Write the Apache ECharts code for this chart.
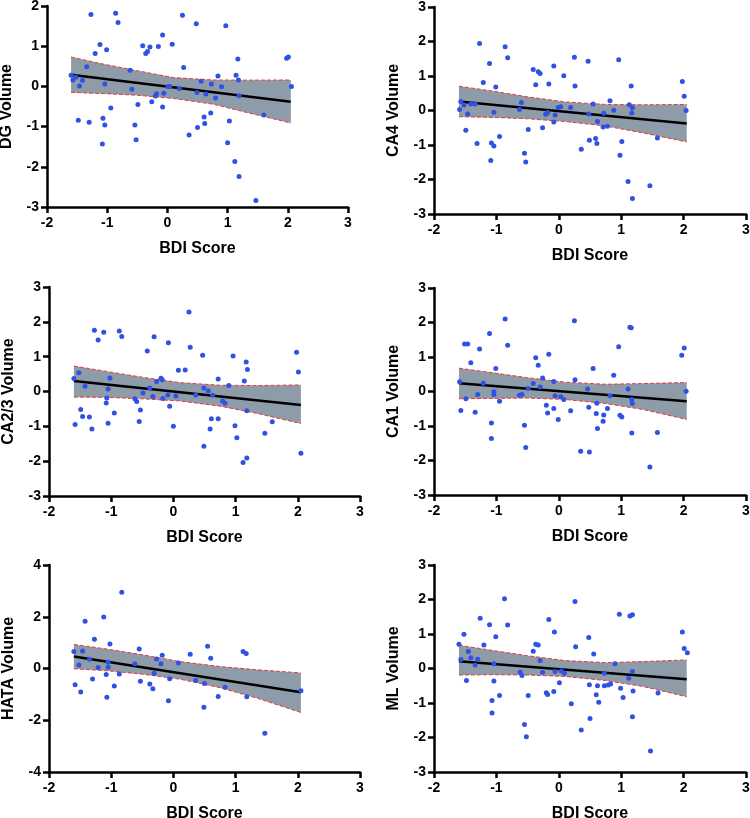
<!DOCTYPE html>
<html>
<head>
<meta charset="utf-8">
<script src="https://cdn.jsdelivr.net/npm/echarts@6/dist/echarts.min.js"></script>
<style>
  html, body { margin: 0; padding: 0; background: #fff; }
  #main { width: 750px; height: 818px; }
</style>
</head>
<body>
<div id="main"></div>
<script>
// scatter points [BDI score, volume]
var dgPoints = [[-1.27,1.79],[-0.86,1.82],[-0.82,1.59],[0.25,1.77],[0.48,1.56],[0.97,1.51],[-1.12,1.04],[-1.20,0.82],[-1.01,0.91],[-0.41,1.01],[-0.36,0.82],[-0.33,0.87],[-0.29,0.98],[-0.15,0.99],[-0.08,1.28],[0.08,1.05],[1.17,0.68],[1.98,0.70],[2.01,0.73],[-1.60,0.28],[-1.57,0.16],[-1.52,0.23],[-1.34,0.49],[-1.41,0.15],[-1.46,0.01],[-1.04,0.06],[-0.62,0.40],[-0.59,-0.07],[0.27,0.47],[0.01,0.00],[0.04,0.00],[0.20,-0.05],[-0.18,-0.18],[-0.20,-0.24],[-0.06,-0.17],[-0.26,-0.38],[-0.08,-0.51],[-0.49,-0.45],[-0.94,-0.54],[-1.48,-0.84],[-1.30,-0.89],[-1.07,-0.79],[-1.04,-0.96],[-0.54,-0.96],[-0.52,-1.33],[-1.08,-1.43],[0.36,-1.21],[0.50,-1.02],[0.61,-0.76],[0.62,-0.92],[0.72,-0.66],[0.49,-0.15],[0.56,0.13],[0.64,-0.19],[0.73,0.06],[0.80,-0.29],[0.84,0.26],[0.90,-0.01],[1.03,-0.86],[1.00,-1.40],[1.14,0.28],[1.18,0.16],[1.19,-0.23],[1.12,-1.87],[1.19,-2.24],[1.47,-2.84],[1.60,-0.71],[2.06,0.00]];

var ca4Points = [[-1.27,1.94],[-0.86,1.85],[-0.82,1.53],[0.25,1.54],[0.47,1.43],[0.96,1.47],[-1.11,1.36],[-1.21,0.81],[-1.01,0.68],[-0.41,1.19],[-0.37,0.75],[-0.33,1.12],[-0.30,1.07],[-0.16,0.77],[-0.08,1.29],[0.08,1.01],[1.16,0.71],[1.98,0.84],[2.01,0.41],[-1.59,0.03],[-1.57,0.26],[-1.52,0.16],[-1.41,0.19],[-1.34,0.19],[-1.46,-0.10],[-1.04,-0.05],[-0.60,0.23],[-0.63,0.03],[0.26,0.71],[-0.01,0.09],[0.03,0.11],[0.19,0.09],[-0.18,-0.06],[-0.21,-0.11],[-0.06,-0.13],[-0.26,-0.50],[-0.08,-0.33],[-0.49,-0.55],[-0.95,-0.75],[-1.49,-0.57],[-1.31,-0.96],[-1.08,-0.94],[-1.04,-1.03],[-0.55,-1.24],[-0.53,-1.49],[-1.09,-1.45],[0.36,-1.12],[0.49,-0.86],[0.59,-0.81],[0.61,-0.96],[0.71,-0.48],[0.48,-0.10],[0.55,0.19],[0.62,-0.32],[0.72,-0.08],[0.78,-0.46],[0.82,0.28],[0.88,0.01],[1.01,-0.90],[0.98,-1.30],[1.13,0.17],[1.18,0.08],[1.17,-0.07],[1.11,-2.06],[1.18,-2.55],[1.46,-2.18],[1.58,-0.80],[2.04,0.00]];

var ca23Points = [[-1.60,0.37],[-1.58,-0.95],[-1.52,0.54],[-1.49,-0.52],[-1.46,-0.72],[-1.42,0.15],[-1.35,-0.73],[-1.31,-1.08],[-1.27,1.76],[-1.21,1.48],[-1.12,1.70],[-1.08,-0.33],[-1.07,-0.19],[-1.05,0.07],[-1.05,-0.91],[-1.02,0.39],[-0.95,-0.62],[-0.87,1.74],[-0.83,1.58],[-0.62,-0.21],[-0.59,-0.29],[-0.55,-0.86],[-0.53,-0.53],[-0.49,-0.04],[-0.42,1.16],[-0.38,0.10],[-0.33,-0.14],[-0.31,1.57],[-0.27,0.29],[-0.20,0.38],[-0.18,0.34],[-0.17,-0.20],[-0.09,-0.10],[-0.08,1.40],[-0.06,-0.42],[0.00,-1.00],[0.04,-0.13],[0.08,0.61],[0.19,0.62],[0.25,2.28],[0.27,1.27],[0.36,-0.10],[0.47,1.04],[0.49,0.10],[0.49,-1.57],[0.56,0.02],[0.59,-1.08],[0.61,-0.78],[0.63,-0.11],[0.72,-0.78],[0.72,0.36],[0.79,-0.27],[0.83,-0.34],[0.89,0.17],[0.96,1.02],[0.99,-0.98],[1.02,-1.33],[1.12,-2.04],[1.14,0.30],[1.17,0.85],[1.18,-1.91],[1.18,-0.55],[1.19,0.63],[1.47,-1.20],[1.59,-0.87],[1.98,1.13],[2.01,0.56],[2.05,-1.77]];

var ca1Points = [[-1.59,0.28],[-1.57,-0.55],[-1.51,1.38],[-1.49,-0.21],[-1.46,1.38],[-1.41,0.83],[-1.34,-0.60],[-1.30,-0.09],[-1.27,1.23],[-1.21,0.24],[-1.11,1.68],[-1.08,-1.36],[-1.08,-0.91],[-1.04,-0.01],[-1.04,-0.09],[-1.01,0.67],[-0.95,-0.28],[-0.86,2.10],[-0.82,1.34],[-0.63,-0.11],[-0.59,-0.09],[-0.55,-0.98],[-0.53,-1.62],[-0.49,0.09],[-0.41,0.23],[-0.37,0.98],[-0.33,0.76],[-0.30,0.13],[-0.26,0.39],[-0.20,-0.40],[-0.18,-0.62],[-0.16,1.08],[-0.08,-0.49],[-0.08,0.29],[-0.06,-0.12],[-0.01,-0.81],[0.03,-0.15],[0.08,-0.23],[0.19,-0.56],[0.25,2.05],[0.26,0.34],[0.35,-1.73],[0.46,0.07],[0.48,-0.46],[0.49,-1.75],[0.55,0.67],[0.60,-0.64],[0.61,-0.34],[0.62,-1.07],[0.71,-0.86],[0.72,-0.68],[0.78,-0.49],[0.82,-0.12],[0.88,0.47],[0.96,1.30],[0.98,-0.69],[1.01,-0.74],[1.11,0.07],[1.14,1.86],[1.16,1.85],[1.17,-0.23],[1.18,-0.35],[1.17,-1.20],[1.46,-2.19],[1.58,-1.19],[1.97,1.05],[2.01,1.26],[2.04,0.01]];

var hataPoints = [[-1.60,0.66],[-1.58,-0.63],[-1.52,0.14],[-1.49,-0.91],[-1.46,0.68],[-1.42,1.83],[-1.35,0.36],[-1.30,-0.41],[-1.27,1.13],[-1.21,0.04],[-1.12,1.99],[-1.08,-0.23],[-1.07,-1.11],[-1.05,0.24],[-1.05,0.05],[-1.02,0.95],[-0.95,-0.68],[-0.87,-0.21],[-0.83,2.95],[-0.62,0.18],[-0.55,0.75],[-0.53,-0.49],[-0.38,-0.60],[-0.33,-0.78],[-0.31,-0.18],[-0.27,0.37],[-0.20,0.18],[-0.18,0.51],[-0.08,-1.25],[-0.06,-0.40],[0.08,0.21],[0.27,0.55],[0.36,-0.46],[0.49,-1.50],[0.50,-0.58],[0.55,0.86],[0.60,0.40],[0.72,-1.08],[0.83,-0.72],[1.12,0.66],[1.17,0.58],[1.18,-1.09],[1.47,-2.50],[2.05,-0.86]];

var mlPoints = [[-1.60,0.70],[-1.57,0.26],[-1.52,0.99],[-1.48,-0.35],[-1.45,0.49],[-1.41,0.31],[-1.34,0.10],[-1.30,0.27],[-1.26,1.46],[-1.20,0.68],[-1.11,1.27],[-1.07,-1.29],[-1.07,-0.93],[-1.04,0.14],[-1.04,-0.36],[-1.01,0.92],[-0.95,-0.78],[-0.87,2.02],[-0.82,1.26],[-0.62,-0.11],[-0.59,-0.20],[-0.55,-1.62],[-0.52,-1.98],[-0.49,-0.78],[-0.41,0.50],[-0.37,0.70],[-0.33,0.68],[-0.30,0.23],[-0.26,-0.11],[-0.20,-0.70],[-0.18,-0.75],[-0.16,1.42],[-0.08,-0.67],[-0.07,1.06],[-0.06,-0.09],[0.01,-0.41],[0.04,-0.07],[0.09,-0.14],[0.20,-1.02],[0.26,1.94],[0.27,0.63],[0.36,-1.78],[0.48,0.90],[0.49,-0.47],[0.50,-1.45],[0.56,0.42],[0.60,-0.76],[0.62,-0.50],[0.64,-0.98],[0.73,-0.14],[0.73,-0.50],[0.79,-0.48],[0.83,-0.45],[0.90,0.14],[0.97,1.57],[0.99,-0.57],[1.03,-0.84],[1.12,-0.28],[1.14,1.52],[1.18,1.56],[1.18,-0.09],[1.19,-0.65],[1.18,-1.40],[1.47,-2.39],[1.59,-0.71],[1.98,1.06],[2.01,0.58],[2.06,0.46]];

// confidence band samples and fitted line ends
var bandX = [-1.6, -1.05, -0.5, 0.1, 0.75, 1.35, 2.05];
var fitX = [-1.6, 2.05];

var dgUpper = [0.73, 0.55, 0.39, 0.22, 0.16, 0.155, 0.16];
var dgLower = [-0.15, -0.18, -0.22, -0.30, -0.44, -0.66, -0.91];
var dgFit = [0.29, -0.38];

var ca4Upper = [0.705, 0.56, 0.395, 0.25, 0.175, 0.165, 0.175];
var ca4Lower = [-0.18, -0.20, -0.24, -0.32, -0.45, -0.65, -0.91];
var ca4Fit = [0.26, -0.375];

var ca23Upper = [0.73, 0.57, 0.41, 0.255, 0.18, 0.17, 0.19];
var ca23Lower = [-0.16, -0.17, -0.21, -0.27, -0.42, -0.63, -0.92];
var ca23Fit = [0.30, -0.39];

var ca1Upper = [0.675, 0.54, 0.40, 0.27, 0.21, 0.23, 0.26];
var ca1Lower = [-0.21, -0.20, -0.19, -0.23, -0.35, -0.52, -0.81];
var ca1Fit = [0.24, -0.28];

var hataUpper = [0.93, 0.745, 0.53, 0.27, 0.075, -0.05, -0.17];
var hataLower = [-0.01, -0.09, -0.22, -0.41, -0.74, -1.15, -1.70];
var hataFit = [0.46, -0.92];

var mlUpper = [0.675, 0.52, 0.37, 0.23, 0.17, 0.20, 0.25];
var mlLower = [-0.19, -0.18, -0.19, -0.23, -0.35, -0.52, -0.82];
var mlFit = [0.21, -0.31];

var xTitle = 'BDI Score';
var yTitles = ['DG Volume', 'CA4 Volume', 'CA2/3 Volume', 'CA1 Volume', 'HATA Volume', 'ML Volume'];
var yRanges = [[-3, 2, 1], [-3, 3, 1], [-3, 3, 1], [-3, 3, 1], [-4, 4, 2], [-3, 3, 1]];

var panels = [
    { points: dgPoints, upper: dgUpper, lower: dgLower, fit: dgFit },
    { points: ca4Points, upper: ca4Upper, lower: ca4Lower, fit: ca4Fit },
    { points: ca23Points, upper: ca23Upper, lower: ca23Lower, fit: ca23Fit },
    { points: ca1Points, upper: ca1Upper, lower: ca1Lower, fit: ca1Fit },
    { points: hataPoints, upper: hataUpper, lower: hataLower, fit: hataFit },
    { points: mlPoints, upper: mlUpper, lower: mlLower, fit: mlFit }
];

// plot area of each panel, in pixels (outerBoundsMode off so v6 doesn't shrink them)
var grids = [
    { left: 47, top: 6, width: 301, height: 201 },
    { left: 434, top: 7, width: 312, height: 207 },
    { left: 49, top: 287, width: 311, height: 209 },
    { left: 434, top: 288, width: 312, height: 207 },
    { left: 49, top: 565, width: 311, height: 207 },
    { left: 434, top: 565, width: 312, height: 207 }
].map(function (g) { g.outerBoundsMode = 'none'; g.containLabel = false; return g; });

var FONT = 'Liberation Sans, Arial, Helvetica, sans-serif';
var DOT = '#2f52e4';
var BAND = '#8e9ba8';
var RED = '#e8383d';

function pairs(xs, ys) {
    return xs.map(function (x, i) { return [x, ys[i]]; });
}

var myChart = echarts.init(document.getElementById('main'), null, { renderer: 'canvas' });

var xAxes = [], yAxes = [], series = [];
var axisLine = { show: true, onZero: false, lineStyle: { color: '#000', width: 2.5 } };
var axisTick = { show: true, length: 6, lineStyle: { color: '#000', width: 2.5 } };

panels.forEach(function (p, i) {
    xAxes.push({
        type: 'value', gridIndex: i, min: -2, max: 3, interval: 1,
        name: xTitle, nameLocation: 'middle', nameGap: 34,
        nameTextStyle: { fontFamily: FONT, fontWeight: 'bold', fontSize: 16, color: '#000' },
        axisLine: axisLine, axisTick: axisTick, splitLine: { show: false },
        axisLabel: { fontFamily: FONT, fontWeight: 'bold', fontSize: 14, color: '#000', margin: 9 }
    });
    yAxes.push({
        type: 'value', gridIndex: i, min: yRanges[i][0], max: yRanges[i][1], interval: yRanges[i][2],
        name: yTitles[i], nameLocation: 'middle', nameGap: 32,
        nameTextStyle: { fontFamily: FONT, fontWeight: 'bold', fontSize: 16, color: '#000' },
        axisLine: axisLine, axisTick: axisTick, splitLine: { show: false },
        axisLabel: { fontFamily: FONT, fontWeight: 'bold', fontSize: 14, color: '#000', margin: 8 }
    });

    // band fill: polygon along the upper edge and back along the lower edge
    var ring = pairs(bandX, p.upper).concat(pairs(bandX, p.lower).reverse());
    series.push({
        type: 'custom', xAxisIndex: i, yAxisIndex: i, silent: true, z: 1,
        data: [0],
        renderItem: function (params, api) {
            return {
                type: 'polygon',
                shape: { points: ring.map(function (pt) { return api.coord(pt); }) },
                style: { fill: BAND, stroke: null }
            };
        }
    });
    // dashed band edges
    [p.upper, p.lower].forEach(function (edge) {
        series.push({
            type: 'line', xAxisIndex: i, yAxisIndex: i, symbol: 'none', silent: true,
            lineStyle: { color: RED, width: 1, type: [4, 2] },
            data: pairs(bandX, edge), z: 2
        });
    });
    // fitted line
    series.push({
        type: 'line', xAxisIndex: i, yAxisIndex: i, symbol: 'none', silent: true,
        lineStyle: { color: '#000', width: 2.5 },
        data: pairs(fitX, p.fit), z: 3
    });
    series.push({
        type: 'scatter', xAxisIndex: i, yAxisIndex: i, symbolSize: 5, silent: true,
        itemStyle: { color: DOT, opacity: 1 },
        data: p.points, z: 4
    });
});

myChart.setOption({
    animation: false,
    backgroundColor: '#fff',
    grid: grids,
    xAxis: xAxes,
    yAxis: yAxes,
    series: series
});
</script>
</body>
</html>
